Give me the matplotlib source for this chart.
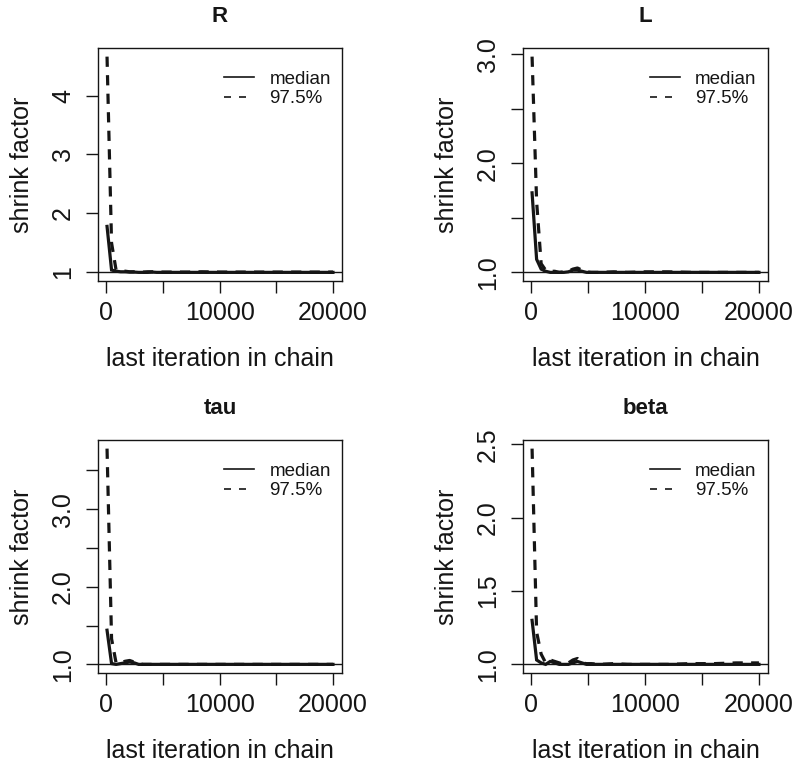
import matplotlib
matplotlib.use("Agg")
import matplotlib.pyplot as plt
from matplotlib.lines import Line2D

plt.rcParams['font.family'] = ['Liberation Sans', 'DejaVu Sans']

# last iteration in chain (bin ends)
iters = [51, 450, 849, 1248, 1647, 2046, 2445, 2844, 3243, 3642, 4041, 4440,
         4839, 5238, 6036, 7233, 8430, 10026, 12021, 14016, 16011, 18006, 20000]

titles = ["R", "L", "tau", "beta"]

R_median = [1.78, 1.04, 1.02, 1.01, 1.01, 1.005, 1.005, 1.0, 1.0, 1.0, 1.005, 1.0,
            1.0, 1.0, 1.0, 1.0, 1.0, 1.0, 1.0, 1.0, 1.0, 1.0, 1.0]
R_upper = [4.66, 1.50, 1.04, 1.02, 1.02, 1.01, 1.01, 1.005, 1.005, 1.01, 1.01, 1.005,
           1.005, 1.005, 1.005, 1.005, 1.01, 1.005, 1.005, 1.005, 1.005, 1.005, 1.005]

L_median = [1.73, 1.12, 1.03, 1.01, 1.0, 1.0, 1.0, 1.0, 1.005, 1.02, 1.02, 1.01,
            1.0, 1.0, 1.0, 1.0, 1.0, 1.0, 1.0, 1.0, 1.0, 1.0, 1.0]
L_upper = [2.98, 1.65, 1.08, 1.02, 1.01, 1.01, 1.0, 1.005, 1.01, 1.03, 1.04, 1.02,
           1.005, 1.0, 1.0, 1.005, 1.0, 1.005, 1.005, 1.0, 1.0, 1.0, 1.0]

tau_median = [1.44, 1.01, 1.0, 1.01, 1.02, 1.03, 1.02, 1.0, 1.0, 1.0, 1.0, 1.0,
              1.0, 1.0, 1.0, 1.0, 1.0, 1.0, 1.0, 1.0, 1.0, 1.0, 1.0]
tau_upper = [3.78, 1.33, 1.02, 1.02, 1.04, 1.05, 1.03, 1.01, 1.0, 1.0, 1.0, 1.0,
             1.0, 1.0, 1.0, 1.0, 1.0, 1.0, 1.0, 1.0, 1.0, 1.0, 1.0]

beta_median = [1.30, 1.03, 1.01, 1.0, 1.02, 1.01, 1.0, 1.0, 1.0, 1.01, 1.02, 1.01,
               1.0, 1.0, 1.0, 1.0, 1.0, 1.0, 1.0, 1.0, 1.0, 1.0, 1.0]
beta_upper = [2.47, 1.22, 1.07, 1.01, 1.03, 1.02, 1.01, 1.0, 1.01, 1.03, 1.04, 1.01,
              1.005, 1.005, 1.0, 1.005, 1.0, 1.0, 1.0, 1.005, 1.005, 1.01, 1.01]

medians = [R_median, L_median, tau_median, beta_median]
uppers = [R_upper, L_upper, tau_upper, beta_upper]

yticks = [[1, 2, 3, 4], [1.0, 1.5, 2.0, 2.5, 3.0], [1.0, 1.5, 2.0, 2.5, 3.0, 3.5],
          [1.0, 1.5, 2.0, 2.5]]
yticklabels = [["1", "2", "3", "4"], ["1.0", "", "2.0", "", "3.0"],
               ["1.0", "", "2.0", "", "3.0", ""], ["1.0", "1.5", "2.0", "2.5"]]
xticks = [0, 5000, 10000, 15000, 20000]
xticklabels = ["0", "", "10000", "", "20000"]

W, H = 800, 765
fig = plt.figure(figsize=(W / 100, H / 100), dpi=100)
ink = "#151515"

# axes boxes in pixels: left, top, right, bottom
boxes = [(98, 48, 342, 281), (523, 48, 768, 281),
         (98, 440, 342, 673), (523, 440, 768, 673)]

for i in range(4):
    l, t, r, b = boxes[i]
    ax = fig.add_axes([l / W, 1 - b / H, (r - l) / W, (b - t) / H])
    ax.plot(iters, medians[i], color=ink, lw=2.3, solid_joinstyle='miter')
    ax.plot(iters, uppers[i], color=ink, lw=2.3, linestyle=(0, (3.2, 2.6)))
    ax.margins(x=0.04, y=0.04)
    ax.axhline(1.0, color=ink, lw=1.0)
    ax.set_xticks(xticks)
    ax.set_xticklabels(xticklabels)
    ax.set_yticks(yticks[i])
    ax.set_yticklabels(yticklabels[i], rotation=90, va='center')
    ax.tick_params(axis='both', direction='out', length=8.6, width=1.0,
                   colors=ink, labelsize=18)
    ax.tick_params(axis='x', pad=6)
    ax.tick_params(axis='y', pad=8)
    for sp in ax.spines.values():
        sp.set_linewidth(1.0)
        sp.set_color(ink)
    ax.set_title(titles[i], fontsize=16, fontweight='bold', pad=19, color=ink)
    ax.set_xlabel("last iteration in chain", fontsize=18, labelpad=16, color=ink)
    ax.set_ylabel("shrink factor", fontsize=18, labelpad=12, color=ink)
    handles = [Line2D([], [], color=ink, lw=1.2),
               Line2D([], [], color=ink, lw=1.2, linestyle=(0, (4.2, 4.8)))]
    ax.legend(handles, ["median", "97.5%"], loc='upper left',
              bbox_to_anchor=(0.48, 0.943), frameon=False, fontsize=13.5,
              handlelength=1.6, handletextpad=0.8, labelspacing=0.12,
              borderpad=0.0, labelcolor=ink)

fig.savefig("out.png", dpi=100)
